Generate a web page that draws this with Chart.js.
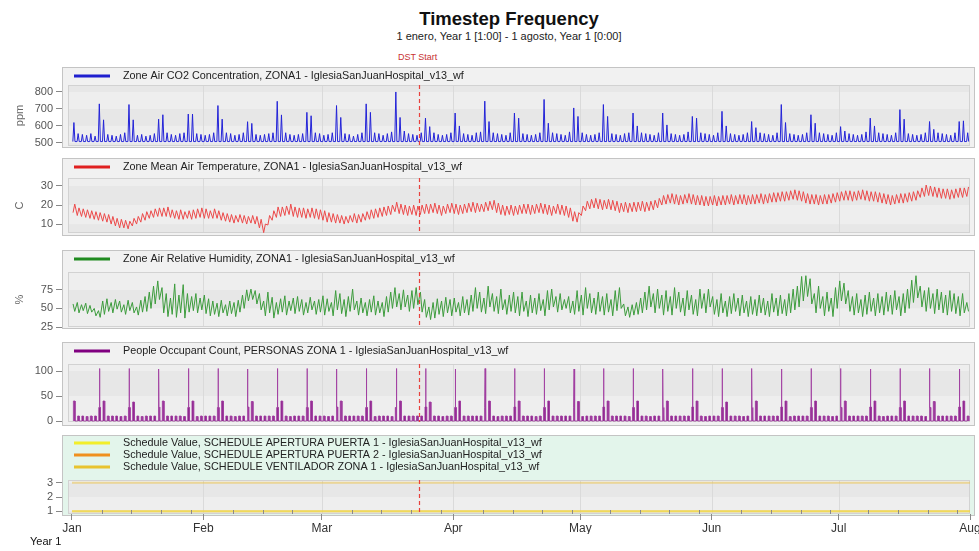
<!DOCTYPE html>
<html>
<head>
<meta charset="utf-8">
<script src="https://cdn.jsdelivr.net/npm/chart.js@4.4.1/dist/chart.umd.min.js"></script>
<style>
  html, body { margin: 0; padding: 0; background: #fff; }
  body { width: 979px; height: 551px; position: relative; overflow: hidden; font-family: "Liberation Sans", Arial, sans-serif; }
  .txt { position: absolute; white-space: nowrap; }
  #title { left: 0; width: 1018px; top: 8px; text-align: center; font-size: 18.5px; font-weight: bold; color: #111; }
  #sub { left: 0; width: 1018px; top: 30px; text-align: center; font-size: 11px; color: #222; }
  #dst { left: 398px; top: 52px; font-size: 9px; color: #c83232; }
  #year { left: 30px; top: 535px; font-size: 11px; color: #111; }
  canvas { position: absolute; left: 0; }
</style>
</head>
<body>
<div id="title" class="txt">Timestep Frequency</div>
<div id="sub" class="txt">1 enero, Year 1 [1:00] - 1 agosto, Year 1 [0:00]</div>
<div id="dst" class="txt">DST Start</div>
<canvas id="p1" width="979" height="82" style="top:67px"></canvas>
<canvas id="p2" width="979" height="79" style="top:158px"></canvas>
<canvas id="p3" width="979" height="80" style="top:250px"></canvas>
<canvas id="p4" width="979" height="85" style="top:342px"></canvas>
<canvas id="p5" width="979" height="116" style="top:435px"></canvas>
<div id="year" class="txt">Year 1</div>
<script>
// ---- datos (dias desde 1 enero) ----
const MONTH_STARTS = [0, 31, 59, 90, 120, 151, 181, 212];
const MONTH_LABELS = ['Jan', 'Feb', 'Mar', 'Apr', 'May', 'Jun', 'Jul', 'Aug'];
const DST_DAY = 82;

const CO2_TICKS = [500, 600, 700, 800];
const TEMP_TICKS = [10, 20, 30];
const HUM_TICKS = [25, 50, 75];
const OCC_TICKS = [0, 50, 100];
const SCHED_TICKS = [1, 2, 3];

// pico diario de CO2 (ppm) y nivel nocturno
const CO2_BASE = 508;
const CO2_PEAK = [
  620,555,550,545,555,540,730, 636,550,545,540,550,560,726, 636,545,550,540,545,555,640,
  666,560,550,545,555,560,670, 670,555,550,545,550,560,720, 640,560,555,545,550,560,625,
  615,550,545,550,555,560,745, 665,560,550,545,550,555,680, 660,560,555,545,550,560,720,
  650,555,550,540,550,560,730, 680,560,555,545,555,565,800, 650,570,555,550,545,560,646,
  596,560,550,545,550,560,676, 600,555,550,545,560,565,746, 626,560,555,550,545,560,676,
  646,555,550,545,550,560,756, 616,560,555,550,545,565,706, 656,560,550,545,550,560,726,
  656,555,550,545,555,560,676, 600,560,555,550,545,560,676, 606,555,550,545,550,565,656,
  646,560,555,550,545,560,686, 600,555,550,545,550,560,626, 590,560,555,550,545,560,726,
  620,555,550,545,550,560,666, 616,560,555,550,545,560,596, 570,555,550,545,550,565,646,
  600,560,555,550,545,560,696, 640,555,550,545,550,560,626, 580,560,555,550,545,560,626,
  630,560
];

// temperatura diaria max / min (C)
const TEMP_MAX = [
  20.5,18.5,18,17.5,17,16.5,16, 15.5,15,14,13,12.5,12,11.5, 13,14,15.5,16.5,17,18,18.5,
  18.5,19,17.5,17,17.5,16.5,17, 17.5,18,18.5,18,17,18,17, 16,15.5,15,14.5,15,14.5,14,
  14.5,14,12.5,10,14.5,17,19, 19,19.5,20.5,19,18.5,18.5,18, 18.5,18,17.5,17,16,15.5,15,
  14.5,14,14.5,15.5,15,15.5,16.5, 17.5,18,18.5,19,19.5,20,21.5, 20.5,20,19.5,20,19.5,20,20.5,
  20.5,21,20,19.5,20.5,21,20.5, 20,20.5,21,21.5,21,20.5,21.5, 22,22.5,21,20,19.5,20,19.5,
  20,20.5,20.5,20,20.5,21,20.5, 20,19.5,20.5,20,19.5,18.5,16.5, 16,19.5,22,23,23.5,23,22.5,
  23,22.5,22,21,21.5,21,21.5, 21.5,22,21.5,22,22.5,23.5,25, 25.5,26,25.5,25,25.5,26,25.5,
  25,25,24.5,24.5,25,24.5,25, 25,25.5,25,25.5,25.5,25,25.5, 25.5,26,25.5,26,26.5,26.5,27,
  27,27.5,28,27.5,27,26,25.5, 25.5,25,25.5,25.5,26,26.5,27, 27.5,27.5,27,27.5,28,27.5,27,
  27,26.5,26,25.5,25,25.5,26, 26,26.5,27,27.5,29,30.5,30, 29.5,29,28.5,28.5,28,28.5,29,
  29,29.5
];
const TEMP_MIN = [
  16,14.5,14,13.5,13,12.5,12, 11.5,11,10,9,8,8,7.5, 9,10,11,12,13,13.5,14,
  14,14,13.5,13,12.5,12.5,13, 12.5,13,13.5,13,13,13,13, 12,11.5,11,10.5,11,10.5,10,
  10.5,10,8,5.5,9.5,12,13.5, 14,14.5,15,14,13.5,13.5,13, 13.5,13,12.5,12,11,11,10.5,
  10.5,10,10.5,11,10.5,11,12, 12.5,13,13.5,14,14.5,15,16.5, 15.5,15,14.5,15,14.5,15,15.5,
  15.5,16,15.5,14.5,15.5,16,15.5, 15,15.5,16,16.5,16,16.5,16.5, 17,17.5,16,15,14.5,15,14.5,
  15,15.5,15.5,15,15.5,16,15.5, 15,14.5,15.5,15,14.5,13.5,11.5, 11,14.5,17,18,18.5,18,17.5,
  18,17.5,17,16,16.5,16,16.5, 16.5,17,16.5,17,17.5,18.5,20, 20.5,21,20.5,20,20.5,21,20.5,
  20,20,19.5,19.5,20,19.5,20, 20,20.5,20,20.5,20.5,20,20.5, 20.5,21,20.5,21,21.5,21.5,22,
  22,22.5,23,22.5,22,21,20.5, 20.5,20,20.5,20.5,21,21.5,22, 22.5,22.5,22,22.5,23,22.5,22,
  22,21.5,21,20.5,20,20.5,21, 21,21.5,22,22.5,24,24.5,25, 24.5,24,23.5,23.5,23,23.5,24,
  24,24.5
];

// humedad relativa diaria max / min (%)
const HUM_MAX = [
  56,58,55,57,54,50,47, 60,63,58,62,60,55,61, 58,52,61,66,72,80,87,
  78,70,64,83,68,82,70, 66,70,64,68,63,60,57, 61,55,60,58,61,68,75,
  76,74,70,60,72,65,58, 63,67,60,64,66,62,58, 65,60,62,67,63,58,74,
  70,62,66,76,60,64,58, 62,67,60,58,66,72,78, 70,75,68,74,78,72,62,
  52,58,63,60,65,62,64, 58,66,62,68,78,72,64, 80,70,66,76,62,68,72,
  66,72,60,68,64,70,62, 74,76,66,70,62,66,60, 74,68,78,70,64,72,66,
  70,62,74,78,56,52,55, 58,64,72,80,70,76,68, 74,66,78,72,64,74,68,
  62,76,70,76,66,62,70, 60,66,70,64,68,60,66, 62,68,64,60,70,64,68,
  62,70,76,80,93,94,90, 70,80,66,72,64,78,87, 84,74,66,70,62,68,72,
  64,70,66,72,68,74,66, 70,76,88,94,80,74,78, 70,76,72,68,74,70,66,
  70,58
];
const HUM_MIN = [
  46,44,47,43,45,40,38, 42,46,44,49,45,42,47, 44,41,45,46,50,56,62,
  44,39,42,38,44,37,45, 47,44,48,43,40,42,39, 44,40,43,39,45,50,60,
  62,56,48,40,44,37,42, 45,41,47,43,46,41,44, 48,42,45,41,46,40,48,
  43,39,46,48,41,44,40, 45,41,44,39,45,50,52, 48,52,46,50,55,45,38,
  35,37,42,39,44,40,45, 40,44,41,46,50,45,43, 52,46,43,48,42,46,44,
  40,46,39,44,42,47,40, 48,52,45,48,50,44,42, 46,41,50,44,42,46,41,
  45,40,47,50,40,38,41, 42,44,48,52,44,50,41, 46,41,50,45,40,48,42,
  40,50,44,52,42,39,44, 39,43,46,40,44,39,42, 40,44,41,39,45,40,43,
  40,44,48,52,60,66,56, 44,50,40,46,39,50,60, 56,46,41,44,39,42,46,
  40,44,41,46,42,48,40, 44,50,58,64,52,46,50, 43,48,44,41,46,43,40,
  44,46
];

// ocupantes: nivel diurno por dia y picos semanales
const OCC_DAY = [
  40,10,10,9,10,10,27, 40,10,10,10,9,10,27, 38,10,9,10,10,10,28, 40,10,10,10,10,9,27,
  40,9,10,10,10,10,27, 40,10,10,9,10,10,28, 39,10,10,10,10,10,27, 40,10,9,10,10,10,27,
  40,10,10,10,9,10,28, 40,10,10,10,10,10,27, 40,9,10,10,10,9,27, 40,10,10,10,10,10,28,
  38,10,10,9,10,10,27, 40,10,10,10,10,10,27, 40,10,9,10,10,10,28, 40,10,10,10,9,10,27,
  40,10,10,10,10,10,27, 39,9,10,10,10,10,28, 40,10,10,10,10,9,27, 40,10,10,9,10,10,27,
  40,10,10,10,10,10,28, 40,10,9,10,10,10,27, 38,10,10,10,9,10,27, 40,10,10,10,10,10,28,
  40,9,10,10,10,10,27, 40,10,10,10,9,10,27, 40,10,10,10,10,10,28, 40,10,9,10,10,10,27,
  40,10,10,10,10,9,27, 39,10,10,10,10,10,28, 40,10
];
const OCC_SPIKE_DAYS = [6,13,20,27,34,41,48,55,62,69,76,83,90,97,104,111,118,125,132,139,146,153,160,167,174,181,188,195,202,209];
const OCC_SPIKE = [105,105,104,105,105,104,105,105,104,105,105,105,104,105,105,105,104,105,105,104,105,105,105,104,105,105,104,105,105,104];

// horarios (valor al inicio de cada mes)
const SCHED_PUERTA1 = [1, 1, 1, 1, 1, 1, 1, 1];
const SCHED_PUERTA2 = [1, 1, 1, 1, 1, 1, 1, 1];
const SCHED_VENT = [3, 3, 3, 3, 3, 3, 3, 3];

// ---- construccion de series ----
function zigzag(first, second) {
  const pts = [];
  for (let d = 0; d < first.length; d++) {
    pts.push({ x: d + 0.25, y: first[d] });
    pts.push({ x: d + 0.65, y: second[d] });
  }
  return pts;
}

function co2Series() {
  const pts = [];
  CO2_PEAK.forEach((p, d) => {
    pts.push({ x: d + 0.2, y: CO2_BASE });
    pts.push({ x: d + 0.45, y: p });
    pts.push({ x: d + 0.7, y: CO2_BASE });
  });
  return pts;
}

function occSeries() {
  const pts = [];
  OCC_DAY.forEach((v, d) => {
    const k = OCC_SPIKE_DAYS.indexOf(d);
    pts.push({ x: d + 0.33, y: 0 }, { x: d + 0.33, y: v });
    if (k >= 0) {
      pts.push({ x: d + 0.5, y: v }, { x: d + 0.52, y: OCC_SPIKE[k] }, { x: d + 0.54, y: v });
    }
    pts.push({ x: d + 0.72, y: v }, { x: d + 0.72, y: 0 });
  });
  return pts;
}

function schedSeries(vals) {
  return vals.map((v, i) => ({ x: MONTH_STARTS[i], y: v }));
}

// ---- dibujo ----
const FONT = '"Liberation Sans", Arial, sans-serif';
Chart.defaults.font.family = FONT;

const XMIN = -2.36, XMAX = 213.18;

const panelPlugin = {
  id: 'panel',
  beforeDraw(chart, args, o) {
    const { ctx, chartArea: a } = chart;
    const x = chart.scales.x, y = chart.scales.y;
    const l = a.left + 6, r = a.right - 5;
    ctx.save();
    ctx.fillStyle = o.bg;
    ctx.fillRect(62, 0, 913, o.h);
    const edges = [y.min, ...o.ticks, y.max];
    for (let i = 0; i < edges.length - 1; i++) {
      const y0 = y.getPixelForValue(edges[i]), y1 = y.getPixelForValue(edges[i + 1]);
      ctx.fillStyle = i % 2 ? '#eeeeee' : '#e7e7e7';
      ctx.fillRect(l, y1, r - l, y0 - y1);
    }
    ctx.strokeStyle = '#dadada';
    ctx.lineWidth = 1;
    MONTH_STARTS.slice(1, -1).forEach(m => {
      const px = Math.round(x.getPixelForValue(m)) + 0.5;
      ctx.beginPath(); ctx.moveTo(px, a.top); ctx.lineTo(px, a.bottom); ctx.stroke();
    });
    ctx.strokeStyle = '#d2d2d2';
    ctx.strokeRect(l + 0.5, a.top + 0.5, r - l - 1, a.bottom - a.top - 1);
    ctx.strokeStyle = '#c4c4c4';
    ctx.strokeRect(62.5, 0.5, 912, o.h - 1);
    ctx.restore();
  },
  afterDatasetsDraw(chart, args, o) {
    const { ctx, chartArea: a } = chart;
    const x = chart.scales.x;
    ctx.save();
    const px = Math.round(x.getPixelForValue(DST_DAY)) + 0.5;
    ctx.strokeStyle = '#e8413c';
    ctx.lineWidth = 1.2;
    ctx.setLineDash([4, 3]);
    ctx.beginPath(); ctx.moveTo(px, a.top); ctx.lineTo(px, a.bottom); ctx.stroke();
    ctx.setLineDash([]);
    ctx.font = '10.8px ' + FONT;
    ctx.textBaseline = 'middle';
    chart.data.datasets.forEach((ds, i) => {
      const ly = o.legendY + i * 12;
      ctx.strokeStyle = ds.legendColor;
      ctx.lineWidth = 3;
      ctx.beginPath(); ctx.moveTo(a.left + 12, ly); ctx.lineTo(a.left + 48, ly); ctx.stroke();
      ctx.fillStyle = '#222';
      ctx.fillText(ds.label, a.left + 61, ly);
    });
    if (o.minorTicks) {
      ctx.strokeStyle = '#8a8a8a';
      ctx.lineWidth = 1;
      for (let i = 0; i < MONTH_STARTS.length - 1; i++) {
        for (let k = 7; MONTH_STARTS[i] + k < MONTH_STARTS[i + 1]; k += 7) {
          const mx = Math.round(x.getPixelForValue(MONTH_STARTS[i] + k)) + 0.5;
          ctx.beginPath(); ctx.moveTo(mx, a.bottom - 4); ctx.lineTo(mx, a.bottom); ctx.stroke();
        }
      }
    }
    ctx.restore();
  }
};

function xScale(show) {
  const s = { type: 'linear', min: XMIN, max: XMAX, display: show };
  if (show) {
    Object.assign(s, {
      afterBuildTicks: sc => { sc.ticks = MONTH_STARTS.map(v => ({ value: v })); },
      afterFit: sc => { sc.height = 20; sc.paddingLeft = 0; sc.paddingRight = 0; },
      ticks: { callback: (v, i) => MONTH_LABELS[i], autoSkip: false, maxRotation: 0, color: '#333', font: { size: 12 }, padding: 1 },
      grid: { drawOnChartArea: false, tickLength: 6, tickColor: '#888' },
      border: { display: false }
    });
  }
  return s;
}

function yScale(min, max, ticks, title) {
  return {
    min, max,
    afterBuildTicks: sc => { sc.ticks = ticks.map(v => ({ value: v })); },
    afterFit: sc => { sc.width = 62; sc.paddingTop = 0; sc.paddingBottom = 0; },
    ticks: { color: '#555', font: { size: 11 }, padding: 3 },
    grid: { drawOnChartArea: false, tickLength: 6, tickColor: '#888' },
    border: { display: false },
    title: { display: !!title, text: title || '', color: '#666', font: { size: 11 }, padding: { top: 13, bottom: 0 } }
  };
}

function makePanel(id, p) {
  return new Chart(document.getElementById(id), {
    type: 'line',
    data: { datasets: p.datasets },
    options: {
      responsive: false,
      animation: false,
      events: [],
      layout: { padding: { top: p.padTop, bottom: p.padBottom, left: 0, right: 4 } },
      elements: { point: { radius: 0 }, line: { borderWidth: 1, tension: 0 } },
      plugins: {
        legend: { display: false },
        tooltip: { enabled: false },
        panel: { bg: p.bg || '#f1f1f1', h: p.h, ticks: p.ticks, legendY: p.legendY || 9, minorTicks: !!p.showX }
      },
      scales: { x: xScale(!!p.showX), y: yScale(p.min, p.max, p.ticks, p.title) }
    },
    plugins: [panelPlugin]
  });
}

makePanel('p1', {
  h: 81, padTop: 18, padBottom: 3, min: 482, max: 841, ticks: CO2_TICKS, title: 'ppm',
  datasets: [{ label: 'Zone Air CO2 Concentration, ZONA1 - IglesiaSanJuanHospital_v13_wf', data: co2Series(), borderColor: '#2323d8', legendColor: '#1f1fcf' }]
});
makePanel('p2', {
  h: 78, padTop: 20, padBottom: 4, min: 5.3, max: 34.2, ticks: TEMP_TICKS, title: 'C',
  datasets: [{ label: 'Zone Mean Air Temperature, ZONA1 - IglesiaSanJuanHospital_v13_wf', data: zigzag(TEMP_MIN, TEMP_MAX), borderColor: '#ec4a4a', legendColor: '#e02020' }]
});
makePanel('p3', {
  h: 79, padTop: 22, padBottom: 3, min: 25, max: 99, ticks: HUM_TICKS, title: '%',
  datasets: [{ label: 'Zone Air Relative Humidity, ZONA1 - IglesiaSanJuanHospital_v13_wf', data: zigzag(HUM_MAX, HUM_MIN), borderColor: '#3c9c3c', legendColor: '#1f8a1f' }]
});
makePanel('p4', {
  h: 84, padTop: 22, padBottom: 5, min: -2, max: 114, ticks: OCC_TICKS,
  datasets: [{ label: 'People Occupant Count, PERSONAS ZONA 1 - IglesiaSanJuanHospital_v13_wf', data: occSeries(), borderColor: 'rgba(160,60,160,0.85)', backgroundColor: 'rgba(120,0,120,0.85)', fill: 'origin', legendColor: '#800080' }]
});
makePanel('p5', {
  h: 81, padTop: 45, padBottom: 17, min: 0.8, max: 3.2, ticks: SCHED_TICKS, bg: '#e3f5eb', legendY: 8, showX: true,
  datasets: [
    { label: 'Schedule Value, SCHEDULE APERTURA PUERTA 1 - IglesiaSanJuanHospital_v13_wf', data: schedSeries(SCHED_PUERTA1), borderColor: 'rgba(240,230,60,0.6)', borderWidth: 2, legendColor: '#f2ee2a' },
    { label: 'Schedule Value, SCHEDULE APERTURA PUERTA 2 - IglesiaSanJuanHospital_v13_wf', data: schedSeries(SCHED_PUERTA2), borderColor: 'rgba(240,170,60,0.55)', borderWidth: 2, legendColor: '#f0901e' },
    { label: 'Schedule Value, SCHEDULE VENTILADOR ZONA 1 - IglesiaSanJuanHospital_v13_wf', data: schedSeries(SCHED_VENT), borderColor: 'rgba(235,195,80,0.55)', borderWidth: 2, legendColor: '#e8c32e' }
  ]
});
</script>
</body>
</html>
